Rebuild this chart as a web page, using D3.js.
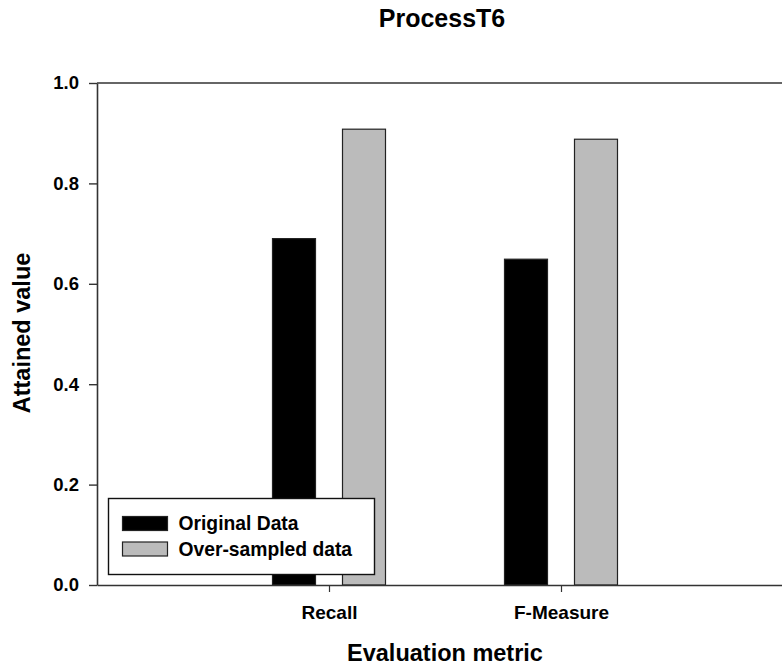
<!DOCTYPE html>
<html>
<head>
<meta charset="utf-8">
<script src="https://cdn.jsdelivr.net/npm/d3@7"></script>
<style>
  html, body { margin: 0; padding: 0; background: #fff; }
  svg { display: block; font-family: "Liberation Sans", Arial, sans-serif; font-weight: bold; }
</style>
</head>
<body>
<div id="chart"></div>
<script>
const categories = ["Recall", "F-Measure"];
const seriesNames = ["Original Data", "Over-sampled data"];
const originalData = [0.69, 0.649];
const overSampledData = [0.908, 0.888];
const yTicks = [0.0, 0.2, 0.4, 0.6, 0.8, 1.0];

const W = 782, H = 669;
const M = { left: 97, top: 83, bottom: 585, right: 793 };
const BAR_W = 43, INNER_GAP = 13.5;
const fills = ["#000000", "#bbbbbb"];

const svg = d3.select("#chart").append("svg")
  .attr("width", W).attr("height", H);

const x = d3.scaleLinear().domain([0, categories.length + 1]).range([M.left, M.right]);
const y = d3.scaleLinear().domain([0, 1]).range([M.bottom, M.top]);

// Bars
const series = [originalData, overSampledData];
series.forEach((vals, s) => {
  svg.append("g").selectAll("rect")
    .data(vals)
    .join("rect")
    .attr("x", (d, i) => s === 0 ? x(i + 1) - INNER_GAP - BAR_W : x(i + 1) + INNER_GAP)
    .attr("y", d => y(d))
    .attr("width", BAR_W)
    .attr("height", d => y(0) - y(d))
    .attr("fill", fills[s])
    .attr("stroke", "#222")
    .attr("stroke-width", 1.2);
});

// Top frame line
svg.append("line")
  .attr("x1", M.left).attr("x2", M.right)
  .attr("y1", y(1)).attr("y2", y(1))
  .attr("stroke", "#333").attr("stroke-width", 1.6);

// Y axis
const yAxis = svg.append("g")
  .attr("transform", `translate(${M.left},0)`)
  .call(d3.axisLeft(y).tickValues(yTicks).tickFormat(d3.format(".1f")).tickSize(8).tickSizeOuter(0).tickPadding(10));
yAxis.select(".domain").attr("stroke", "#333").attr("stroke-width", 1.6);
yAxis.selectAll(".tick line").attr("stroke", "#333").attr("stroke-width", 1.4);
yAxis.selectAll(".tick text")
  .attr("font-size", 18.5).attr("font-weight", "bold").attr("fill", "#000")
  .attr("font-family", "Liberation Sans, Arial, sans-serif");

// X axis
const xAxis = svg.append("g")
  .attr("transform", `translate(0,${M.bottom})`)
  .call(d3.axisBottom(x).tickValues(categories.map((c, i) => i + 1))
    .tickFormat(d => categories[d - 1]).tickSize(7).tickSizeOuter(0).tickPadding(14));
xAxis.select(".domain").attr("stroke", "#333").attr("stroke-width", 1.6);
xAxis.selectAll(".tick line").attr("stroke", "#333").attr("stroke-width", 1.2);
xAxis.selectAll(".tick text")
  .attr("font-size", 19).attr("font-weight", "bold").attr("fill", "#000")
  .attr("font-family", "Liberation Sans, Arial, sans-serif");

// Title
svg.append("text")
  .attr("x", 442).attr("y", 27)
  .attr("text-anchor", "middle")
  .attr("font-size", 25)
  .text("ProcessT6");

// Axis titles
svg.append("text")
  .attr("x", 445).attr("y", 661)
  .attr("text-anchor", "middle")
  .attr("font-size", 23.5)
  .text("Evaluation metric");

svg.append("text")
  .attr("transform", "translate(30,333) rotate(-90)")
  .attr("text-anchor", "middle")
  .attr("font-size", 23.5)
  .text("Attained value");

// Legend
const lg = svg.append("g").attr("transform", "translate(108.5,498.5)");
lg.append("rect")
  .attr("width", 266).attr("height", 76)
  .attr("fill", "#fff").attr("stroke", "#111").attr("stroke-width", 1.4);
seriesNames.forEach((name, i) => {
  const row = lg.append("g").attr("transform", `translate(0,${18 + i * 25.5})`);
  row.append("rect")
    .attr("x", 14).attr("y", 0)
    .attr("width", 45).attr("height", 14)
    .attr("fill", fills[i]).attr("stroke", "#222").attr("stroke-width", 1.2);
  row.append("text")
    .attr("x", 70).attr("y", 13.5)
    .attr("font-size", 19.3)
    .text(name);
});
</script>
</body>
</html>
